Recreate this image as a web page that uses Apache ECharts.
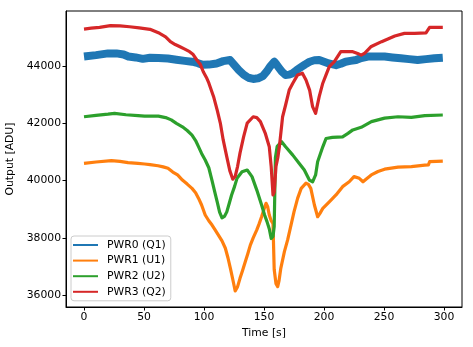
<!DOCTYPE html>
<html>
<head>
<meta charset="utf-8">
<script src="https://cdn.jsdelivr.net/npm/echarts@6/dist/echarts.min.js"></script>
<style>html,body{margin:0;padding:0;background:#fff}#c{width:473px;height:347px}</style>
</head>
<body>
<div id="c"></div>
<script>
var seriesNames = ['PWR0 (Q1)', 'PWR1 (U1)', 'PWR2 (U2)', 'PWR3 (Q2)'];
var xTicks = [0, 50, 100, 150, 200, 250, 300];
var yTicks = [36000, 38000, 40000, 42000, 44000];

var pwr0 = [[0,44330],[10,44380],[20,44440],[27,44440],[33,44400],[37,44330],[43,44300],[49,44250],[55,44290],[62,44280],[70,44260],[77,44220],[84,44180],[90,44150],[95,44100],[99,44040],[104,44050],[110.5,44090],[116,44170],[121.7,44210],[125,44050],[129,43860],[133,43700],[137,43590],[141,43550],[145,43570],[149,43650],[152.5,43820],[155,43980],[158.6,44150],[160.5,44050],[162.8,43920],[165,43800],[168,43690],[171,43700],[174,43750],[177,43850],[179.4,43920],[184,44050],[188,44150],[192,44200],[196,44210],[200,44150],[204,44090],[210,44030],[214,44080],[218,44150],[222,44180],[226.7,44210],[231,44280],[236.7,44330],[243,44330],[250.5,44330],[257,44300],[264,44270],[271,44240],[278,44210],[285,44240],[292,44270],[299,44290]];

var pwr1 = [[0,40600],[10,40650],[22.8,40700],[30,40670],[36.7,40630],[45,40600],[50.5,40580],[55,40560],[61.7,40520],[66,40480],[70,40430],[74,40300],[78,40200],[82,40020],[86,39880],[90,39730],[93,39580],[95.5,39380],[98,39150],[101,38800],[104,38600],[106.7,38450],[109,38300],[112,38100],[115,37900],[117.8,37640],[120,37300],[122,36940],[124,36550],[126,36150],[128,36300],[130,36590],[132,36850],[134.4,37170],[136.5,37450],[138.6,37750],[141,38000],[144,38280],[146,38500],[148,38740],[150,39000],[151.7,39210],[153,39100],[154.4,38800],[156,38600],[157.5,38500],[158.5,36900],[160,36400],[161.4,36300],[162.5,36500],[164,36940],[167,37520],[169.7,37930],[172.5,38450],[175,38910],[178,39380],[181,39730],[185,39910],[187,39870],[189,39730],[192,39150],[194.7,38740],[196.5,38850],[199,39030],[204.4,39260],[210,39500],[215.5,39790],[221,39960],[225,40140],[229.4,40080],[232.5,39960],[235,40050],[239.4,40200],[245,40320],[250.5,40400],[261.7,40470],[272.8,40490],[284,40540],[287,40550],[288,40660],[299,40680]];

var pwr2 = [[0,42230],[10,42280],[20,42320],[25.5,42350],[35,42300],[45,42270],[50.5,42250],[62,42250],[68,42200],[72.7,42120],[77,42000],[82,41880],[86,41750],[90,41590],[93,41400],[95.5,41180],[98,40950],[101,40720],[104,40450],[106.7,40000],[109,39600],[111,39260],[113,38900],[115,38700],[117,38750],[119,38910],[121,39200],[123,39500],[125.5,39800],[127.5,40080],[131.7,40310],[136,40370],[140,40140],[144,39670],[148,39150],[150.5,38800],[152.5,38570],[154.5,38300],[156,37980],[157.5,38050],[158.5,38400],[159.5,40800],[161,41200],[164.7,41360],[168,41180],[174,40890],[179.4,40600],[183.6,40370],[187.8,40020],[190.5,39960],[193,40200],[194.7,40660],[196,40720],[199,41180],[201.7,41470],[207,41510],[215.5,41530],[220,41650],[224,41770],[231,41860],[239.5,42060],[250.5,42180],[261.7,42230],[272.8,42210],[284,42270],[299,42290]];

var pwr3 = [[0,45290],[6,45320],[13,45350],[22,45410],[30,45400],[38,45370],[46,45330],[55,45280],[63,45140],[68,45020],[72,44850],[76,44750],[80,44670],[84,44590],[88,44500],[91,44400],[94,44210],[97,44050],[99.4,43800],[102,43600],[104,43410],[108,42930],[111,42460],[113.6,42010],[116,41420],[119,40830],[121.5,40350],[124,40050],[126,40150],[128,40500],[130,40960],[133,41530],[136,42010],[141,42230],[144,42200],[147,42060],[151,41660],[154.4,41180],[156,40490],[157.5,39500],[158.5,39600],[160,40500],[161.5,40800],[162.8,41180],[165.5,42230],[168,42640],[171,43160],[174,43400],[178,43690],[182,43750],[185,43510],[188,43160],[190.5,42580],[193,42350],[196,42930],[199,43400],[201.7,43690],[204.4,43980],[208.6,44150],[214,44500],[218,44500],[224,44500],[228,44440],[231,44380],[234,44450],[239,44670],[248,44850],[259,45050],[267,45140],[275.5,45140],[285,45160],[288,45350],[299,45350]];

var colors = ['#1f77b4', '#ff7f0e', '#2ca02c', '#d62728'];
var data = [pwr0, pwr1, pwr2, pwr3];
var widths = [8, 3.2, 3.2, 3.2];
var FONT = 'DejaVu Sans';

var chart = echarts.init(document.getElementById('c'), null, {renderer: 'canvas'});
chart.setOption({
  animation: false,
  backgroundColor: '#fff',
  grid: {left: 66, right: 11, top: 11, bottom: 40, show: true, borderColor: '#000', borderWidth: 1, backgroundColor: 'transparent', containLabel: false, outerBoundsMode: 'none'},
  xAxis: {
    type: 'value', min: -15, max: 315,
    name: 'Time [s]', nameLocation: 'middle', nameGap: 20,
    nameTextStyle: {fontFamily: FONT, fontSize: 10.8, color: '#000'},
    axisLine: {show: true, onZero: false, lineStyle: {color: '#000', width: 1}},
    axisTick: {show: true, inside: false, length: 3.5, lineStyle: {color: '#000'}, customValues: xTicks},
    axisLabel: {fontFamily: FONT, fontSize: 10.8, color: '#000', margin: 5, customValues: xTicks, formatter: function (v) { return String(v); }},
    splitLine: {show: false}
  },
  yAxis: {
    type: 'value', min: 35590, max: 45920,
    name: 'Output [ADU]', nameLocation: 'middle', nameGap: 47, nameRotate: 90,
    nameTextStyle: {fontFamily: FONT, fontSize: 10.8, color: '#000'},
    axisLine: {show: true, onZero: false, lineStyle: {color: '#000', width: 1}},
    axisTick: {show: true, inside: false, length: 3.5, lineStyle: {color: '#000'}, customValues: yTicks},
    axisLabel: {fontFamily: FONT, fontSize: 10.8, color: '#000', margin: 5, customValues: yTicks, formatter: function (v) { return String(v); }},
    splitLine: {show: false}
  },
  legend: {
    orient: 'vertical', left: 71, top: 236,
    data: seriesNames,
    icon: 'rect', itemWidth: 25, itemHeight: 2, itemGap: 3.6,
    padding: [3, 5, 3, 2],
    backgroundColor: 'rgba(255,255,255,0.8)', borderColor: '#ccc', borderWidth: 1, borderRadius: 3,
    itemStyle: {borderWidth: 0},
    textStyle: {fontFamily: FONT, fontSize: 10.8, color: '#000', lineHeight: 12, padding: [0, 0, 0, 4]}
  },
  series: seriesNames.map(function (n, i) {
    return {
      name: n, type: 'line', data: data[i], showSymbol: false, symbol: 'none',
      color: colors[i],
      lineStyle: {color: colors[i], width: widths[i], join: 'round'},
      z: 2 + i
    };
  })
});
</script>
</body>
</html>
